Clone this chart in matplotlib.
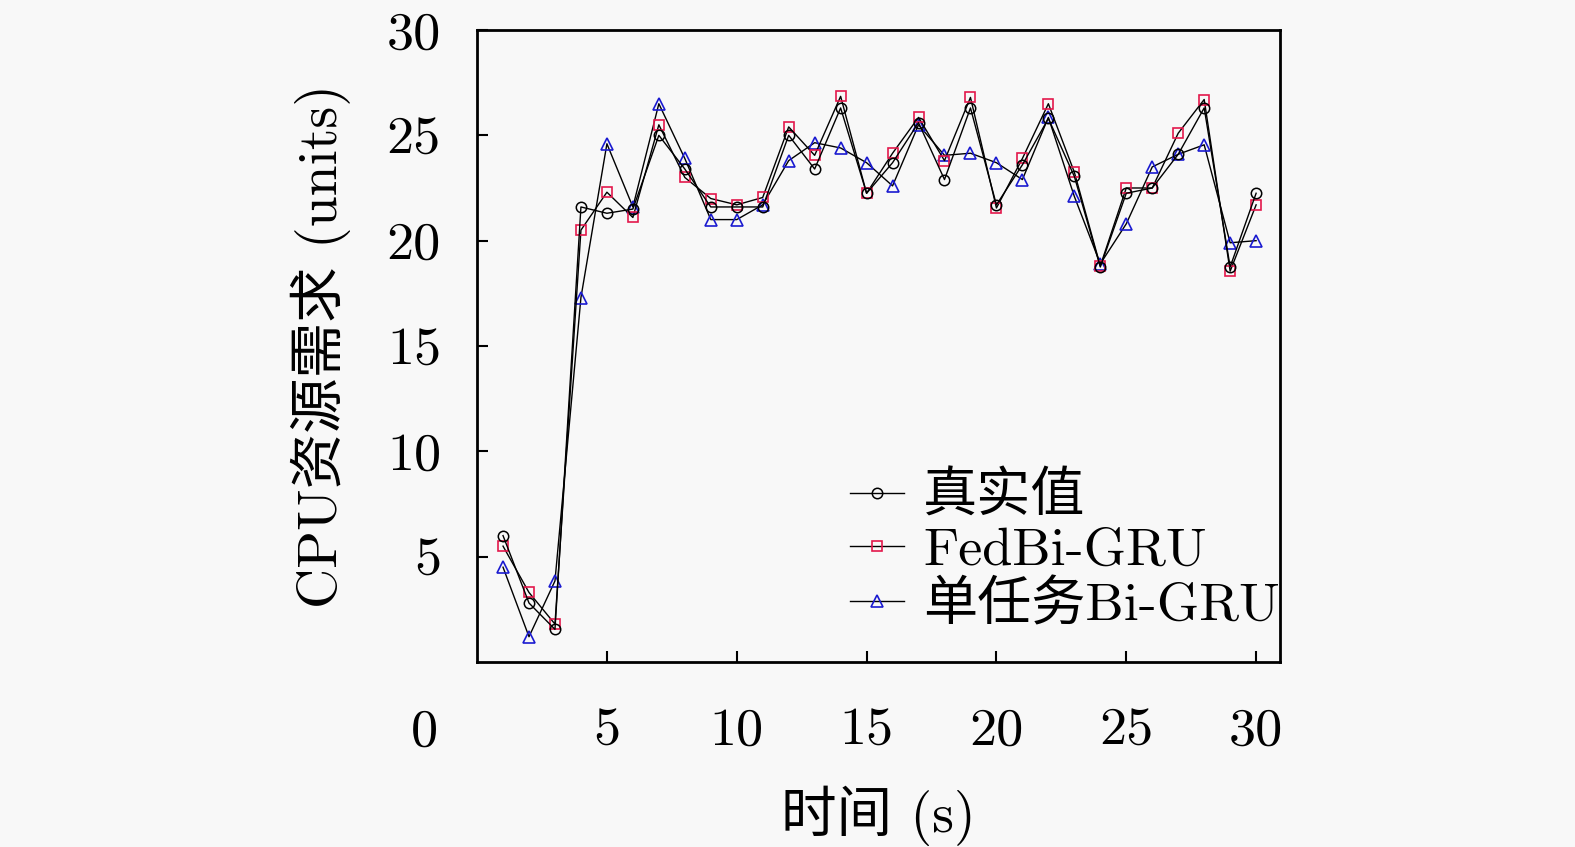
import numpy as np
import matplotlib
matplotlib.use("Agg")
import matplotlib.pyplot as plt

plt.rcParams['font.family'] = ['cmr10', 'Noto Sans CJK SC']
plt.rcParams['axes.formatter.use_mathtext'] = True

# ─── 数据 ─────────────────────────────────────────
t = np.arange(1, 31)
true_vals = [6.0, 2.8, 1.55, 21.6, 21.3, 21.5, 25.0, 23.4, 21.6, 21.6,
             21.6, 25.0, 23.4, 26.3, 22.25, 23.7, 25.6, 22.9, 26.3, 21.7,
             23.6, 25.8, 23.05, 18.75, 22.25, 22.5, 24.1, 26.3, 18.75, 22.25]
fed_vals = [5.5, 3.3, 1.8, 20.5, 22.3, 21.1, 25.5, 23.0, 22.0, 21.7,
            22.05, 25.4, 24.05, 26.85, 22.25, 24.15, 25.85, 23.8, 26.8, 21.55,
            23.9, 26.5, 23.25, 18.8, 22.5, 22.5, 25.1, 26.7, 18.55, 21.7]
single_vals = [4.5, 1.2, 3.85, 17.3, 24.6, 21.6, 26.5, 23.9, 21.0, 21.0,
               21.7, 23.8, 24.65, 24.4, 23.7, 22.6, 25.5, 24.05, 24.15, 23.7,
               22.9, 25.85, 22.1, 18.9, 20.8, 23.5, 24.1, 24.55, 19.9, 20.0]
labels = ['真实值', 'FedBi-GRU', '单任务Bi-GRU']
xticks = [5, 10, 15, 20, 25, 30]
yticks = [5, 10, 15, 20, 25, 30]

BG = '#f8f8f8'
fig = plt.figure(figsize=(15.75, 8.47), dpi=100)
fig.patch.set_facecolor(BG)
ax = fig.add_axes([0.3029, 0.2184, 0.5098, 0.7462])
ax.set_facecolor(BG)

ax.plot(t, true_vals, color='black', lw=1.0, marker='o', ms=7.5,
        mfc='none', mec='black', mew=1.1, label=labels[0], zorder=5)
ax.plot(t, fed_vals, color='black', lw=1.0, marker='s', ms=7,
        mfc='none', mec='#e3184c', mew=1.2, label=labels[1], zorder=4)
ax.plot(t, single_vals, color='black', lw=1.0, marker='^', ms=8,
        mfc='none', mec='#1a1ad0', mew=1.2, label=labels[2], zorder=3)

ax.set_xlim(0, 30.92)
ax.set_ylim(0, 30)
ax.set_xticks(xticks)
ax.set_yticks(yticks)
ax.set_xticklabels([str(v) for v in xticks])
ax.set_yticklabels([str(v) for v in yticks])
ax.tick_params(direction='in', length=8, width=1.5, labelsize=39,
               top=False, right=False)
ax.tick_params(axis='x', pad=33)
ax.tick_params(axis='y', pad=26)
for s in ax.spines.values():
    s.set_linewidth(2.0)

# 原点 "0"
ax.text(-0.066, -0.111, '0', transform=ax.transAxes, fontsize=39,
        ha='center', va='center')

ax.set_xlabel('时间 (s)', fontsize=40, labelpad=22)
ax.set_ylabel('CPU资源需求 (units)', fontsize=40, labelpad=26)

leg = ax.legend(loc='lower right', bbox_to_anchor=(1.0, 0.05), frameon=False,
                fontsize=39, handlelength=1.0, handletextpad=0.35,
                labelspacing=0.1, borderaxespad=0.0, borderpad=0.0)

fig.savefig('out.png', dpi=100, facecolor=BG)
